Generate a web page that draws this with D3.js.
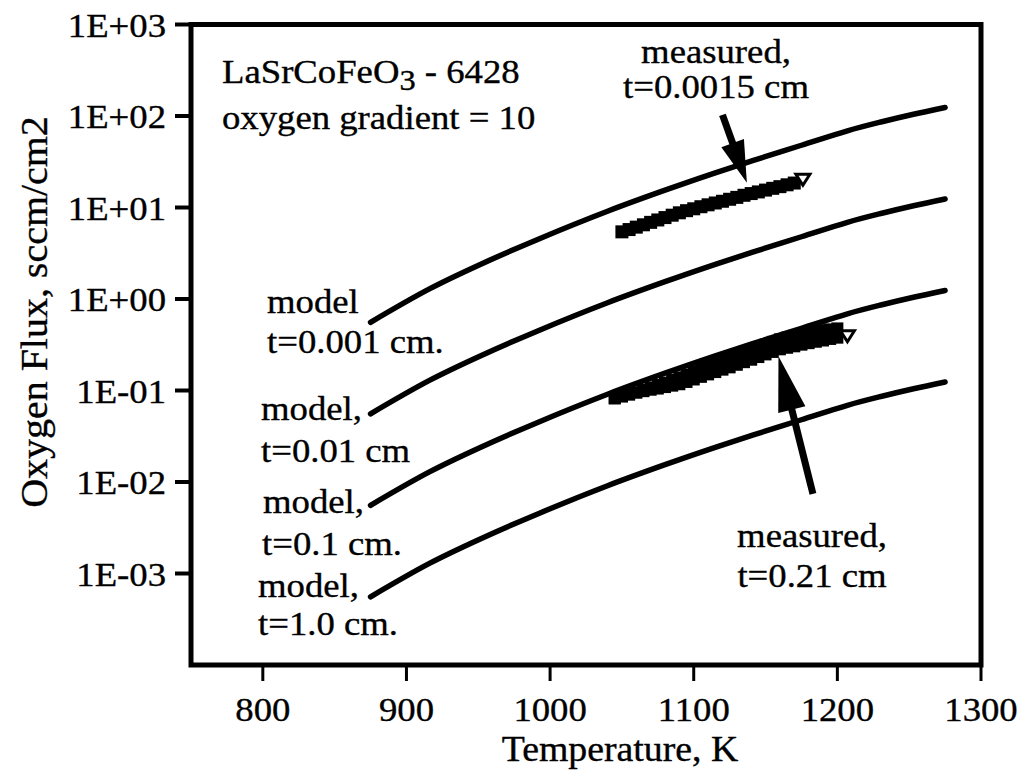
<!DOCTYPE html>
<html><head><meta charset="utf-8">
<script src="https://cdn.jsdelivr.net/npm/d3@7"></script>
<style>body{margin:0;background:#fff} svg{display:block}</style>
</head><body><svg id="c" width="1021" height="776"></svg>
<script>
// ---- data ----
const temps = [875, 916, 951, 993, 1040, 1080, 1115, 1141, 1175, 1207, 1231, 1253, 1275];
const model_t0001 = [0.557, 1.29, 2.371, 4.592, 9.10, 15.45, 23.9, 32.5, 47.9, 68.9, 86.5, 104.5, 123.9];
const model_t001  = [0.0557, 0.129, 0.2371, 0.4592, 0.910, 1.545, 2.39, 3.25, 4.79, 6.89, 8.65, 10.45, 12.39];
const model_t01   = [0.00557, 0.0129, 0.02371, 0.04592, 0.0910, 0.1545, 0.239, 0.325, 0.479, 0.689, 0.865, 1.045, 1.239];
const model_t10   = [0.000557, 0.00129, 0.002371, 0.004592, 0.00910, 0.01545, 0.0239, 0.0325, 0.0479, 0.0689, 0.0865, 0.1045, 0.1239];

const meas0015_T = [1050,1055,1060,1065,1070,1075,1080,1085,1090,1095,1100,1105,1110,1115,1120,1125,1130,1135,1140,1145,1150,1155,1160,1165,1170];
const meas0015_F = [5.42,5.74,6.10,6.47,6.88,7.31,7.76,8.24,8.75,9.23,9.68,10.2,10.7,11.2,11.7,12.3,12.9,13.6,14.2,14.8,15.5,16.2,16.9,17.7,18.5];
const meas0015_tri = [1176, 20.1];

const meas021_T  = [1045,1050,1055,1060,1065,1070,1075,1080,1085,1090,1095,1100,1105,1110,1115,1120,1125,1130,1135,1140,1145,1150,1155,1160,1165,1170,1175,1180,1185,1190,1195,1200];
const meas021_hi = [0.0822,0.0863,0.0906,0.0951,0.1012,0.108,0.115,0.122,0.131,0.139,0.149,0.160,0.173,0.185,0.199,0.214,0.230,0.245,0.262,0.279,0.298,0.318,0.340,0.362,0.378,0.396,0.413,0.432,0.447,0.457,0.466,0.477];
const meas021_lo = [0.0822,0.0863,0.0906,0.0951,0.0983,0.102,0.105,0.109,0.113,0.117,0.124,0.132,0.141,0.150,0.159,0.169,0.179,0.191,0.204,0.217,0.232,0.248,0.264,0.282,0.293,0.304,0.317,0.329,0.341,0.352,0.366,0.378];
const meas021_tri = [1207, 0.391];

const xTicks = [800, 900, 1000, 1100, 1200, 1300];
const yTicks = [1e3, 1e2, 1e1, 1e0, 1e-1, 1e-2, 1e-3];
const yTickLabels = ["1E+03","1E+02","1E+01","1E+00","1E-01","1E-02","1E-03"];

const arrowTop = [[1120, 103], [1137, 18.7]];
const arrowBottom = [[1183, 0.0074], [1159, 0.237]];

// ---- drawing ----
const svg = d3.select("#c");
const FONT = "'Liberation Serif','Times New Roman',Times,serif";
const SX = 1.08;
const x = d3.scaleLinear().domain([750, 1300]).range([191, 981]);
const y = d3.scaleLog().domain([1e-4, 1e3]).range([665, 24.5]);

function txt(px, py, s, size, anchor, rot) {
  const t = svg.append("text")
    .attr("transform", `translate(${px},${py})` + (rot ? ` rotate(${rot})` : "") + ` scale(${SX},1)`)
    .attr("font-family", FONT).attr("font-size", size)
    .attr("text-anchor", anchor || "start").attr("fill", "#000")
    .attr("stroke", "#000").attr("stroke-width", 0.35);
  if (typeof s === "string") t.text(s);
  return t;
}

// frame
svg.append("rect")
  .attr("x", x.range()[0]).attr("y", y.range()[1])
  .attr("width", x.range()[1] - x.range()[0]).attr("height", y.range()[0] - y.range()[1])
  .attr("fill", "none").attr("stroke", "#000").attr("stroke-width", 5);

// x ticks + labels
xTicks.forEach(v => {
  svg.append("line").attr("x1", x(v)).attr("x2", x(v))
    .attr("y1", y.range()[0]).attr("y2", y.range()[0] + 16)
    .attr("stroke", "#000").attr("stroke-width", 3);
  txt(x(v), 721, String(v), 34, "middle");
});
// y ticks + labels
yTicks.forEach((v, i) => {
  svg.append("line").attr("x1", x.range()[0] - 16).attr("x2", x.range()[0])
    .attr("y1", y(v)).attr("y2", y(v))
    .attr("stroke", "#000").attr("stroke-width", 4);
  txt(166, y(v) + 12, yTickLabels[i], 34, "end");
});

// axis titles
txt(620, 761, "Temperature, K", 35, "middle");
txt(47, 312, "Oxygen Flux, sccm/cm2", 37, "middle", -90);

// model curves
const line = d3.line().x(d => x(d[0])).y(d => y(d[1])).curve(d3.curveCatmullRom.alpha(0.5));
[model_t0001, model_t001, model_t01, model_t10].forEach(arr => {
  svg.append("path").datum(temps.map((t, i) => [t, arr[i]]))
    .attr("d", line).attr("fill", "none").attr("stroke", "#000")
    .attr("stroke-width", 5.5).attr("stroke-linecap", "round").attr("stroke-linejoin", "round");
});

// measured markers
function squares(T, F, size) {
  svg.append("g").selectAll("rect").data(T.map((t, i) => [t, F[i]])).join("rect")
    .attr("x", d => x(d[0]) - size / 2).attr("y", d => y(d[1]) - size / 2)
    .attr("width", size).attr("height", size).attr("fill", "#000");
}
function triangle(p, w, h) {
  const cx = x(p[0]), cy = y(p[1]);
  svg.append("path")
    .attr("d", `M${cx - w / 2},${cy - h / 2}L${cx + w / 2},${cy - h / 2}L${cx},${cy + h / 2}Z`)
    .attr("fill", "#fff").attr("stroke", "#000").attr("stroke-width", 3);
}
squares(meas0015_T, meas0015_F, 13);
triangle(meas0015_tri, 14, 11);
squares(meas021_T, meas021_hi, 12);
squares(meas021_T, meas021_lo, 12);
triangle(meas021_tri, 14, 11);

// arrows
function arrow(a, headLen, headW) {
  const x0 = x(a[0][0]), y0 = y(a[0][1]), x1 = x(a[1][0]), y1 = y(a[1][1]);
  const dx = x1 - x0, dy = y1 - y0, L = Math.hypot(dx, dy), ux = dx / L, uy = dy / L;
  const bx = x1 - ux * headLen, by = y1 - uy * headLen;
  svg.append("line").attr("x1", x0).attr("y1", y0).attr("x2", bx + ux * 2).attr("y2", by + uy * 2)
    .attr("stroke", "#000").attr("stroke-width", 7);
  svg.append("path")
    .attr("d", `M${x1},${y1}L${bx - uy * headW / 2},${by + ux * headW / 2}L${bx + uy * headW / 2},${by - ux * headW / 2}Z`)
    .attr("fill", "#000");
}
arrow(arrowTop, 42, 24);
arrow(arrowBottom, 55, 28);

// annotations
const t1 = txt(222, 83, null, 34, "start");
t1.append("tspan").text("LaSrCoFeO");
t1.append("tspan").attr("dy", 7).attr("font-size", 30).text("3");
t1.append("tspan").attr("dy", -7).text(" - 6428");
txt(222, 129, "oxygen gradient = 10", 34, "start");

txt(716, 63, "measured,", 34, "middle");
txt(716, 98, "t=0.0015 cm", 34, "middle");
txt(812, 547, "measured,", 34, "middle");
txt(812, 587, "t=0.21 cm", 34, "middle");

txt(267, 313, "model", 34, "start");
txt(267, 353, "t=0.001 cm.", 34, "start");
txt(261, 420, "model,", 34, "start");
txt(261, 462, "t=0.01 cm", 34, "start");
txt(263, 513, "model,", 34, "start");
txt(262, 555, "t=0.1 cm.", 34, "start");
txt(258, 597, "model,", 34, "start");
txt(258, 635, "t=1.0 cm.", 34, "start");
</script></body></html>
